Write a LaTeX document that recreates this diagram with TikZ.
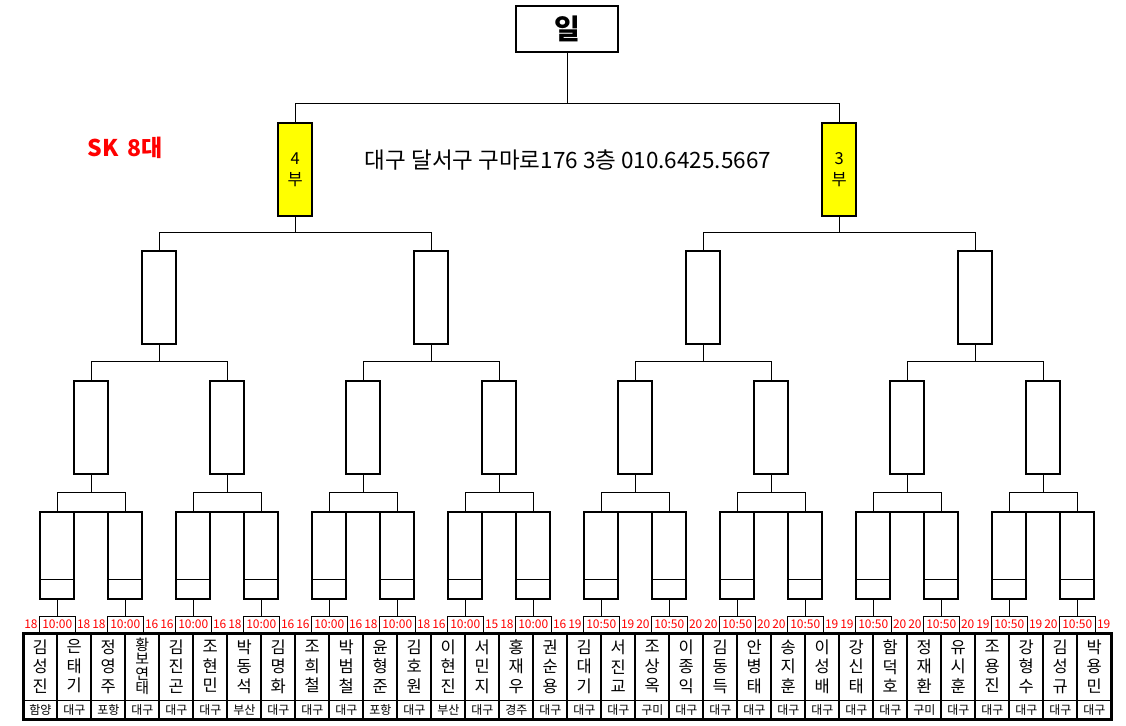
\documentclass[tikz,border=0pt]{standalone}
\usepackage{fontspec}
\setmainfont{Noto Sans CJK KR}
\usetikzlibrary{positioning}
\definecolor{myred}{RGB}{255,0,0}
\definecolor{myyellow}{RGB}{255,255,0}

\begin{document}
\begin{tikzpicture}[x=1pt,y=-1pt,
    slot/.style={draw,line width=2.2pt,minimum width=34pt,minimum height=93.3pt,inner sep=0pt,outer sep=0pt},
    timebox/.style={draw,line width=1pt,minimum width=36pt,minimum height=17pt,inner sep=0pt,outer sep=0pt,text=myred,font=\fontsize{12}{13}\selectfont},
    score/.style={inner sep=0pt,text=myred,font=\fontsize{12}{13}\selectfont},
    namecell/.style={minimum width=34pt,minimum height=67pt,inner sep=0pt,outer sep=0pt,align=center},
    citycell/.style={minimum width=34pt,minimum height=19.3pt,inner sep=0pt,outer sep=0pt,font=\fontsize{12}{13}\selectfont},
    link/.style={line width=1pt}]
    \useasboundingbox (0,0) rectangle (1126,725);
    \node[draw,line width=2.2pt,minimum width=102pt,minimum height=46pt,outer sep=0pt,font=\bfseries\fontsize{28}{30}\selectfont] (win) at (567.3,29) {일};
    \foreach \s/\lbl in {1/4,2/3}
        \node[slot,fill=myyellow,align=center,font=\fontsize{16.5}{21}\selectfont] (bu\s) at ({23.3+(16*\s-8)*34},169.3) {\lbl\\부};
    \foreach \n in {1,...,4}
        \node[slot] (rc\n) at ({23.3+(8*\n-4)*34},297.3) {};
    \foreach \m in {1,...,8}
        \node[slot] (rb\m) at ({23.3+(4*\m-2)*34},427.3) {};
    \foreach \l/\tm/\r [count=\k] in {18/10:00/18,18/10:00/16,16/10:00/16,18/10:00/16,16/10:00/16,18/10:00/18,16/10:00/15,18/10:00/16,
        19/10:50/19,20/10:50/20,20/10:50/20,20/10:50/19,19/10:50/20,20/10:50/20,19/10:50/19,20/10:50/19} {
        \node[slot,minimum height=86.7pt] (ra\k) at ({23.3+(2*\k-1)*34},555.3) {};
        \draw[link] ([yshift=19.4pt]ra\k.south west) -- ([yshift=19.4pt]ra\k.south east);
        \node[timebox] (tm\k) at ({23.3+(2*\k-1)*34},624.5) {\tm};
        \node[score,left=1.5pt of tm\k] (sl\k) {\l};
        \node[score,right=1.5pt of tm\k] (sr\k) {\r};
        \draw[link] (ra\k) -- (tm\k);
    }
    \foreach \m [evaluate=\m as \j using int(2*\m-1), evaluate=\m as \k using int(2*\m)] in {1,...,8} {
        \draw[line width=2.2pt] (ra\j.north east) -- (ra\k.north west);
        \draw[link] (ra\j.north) -- ++(0,-19.3) coordinate (jn) -| (ra\k.north);
        \draw[link] (rb\m) -- (rb\m.south |- jn);
    }
    \foreach \n [evaluate=\n as \j using int(2*\n-1), evaluate=\n as \k using int(2*\n)] in {1,...,4} {
        \draw[link] (rb\j.north) -- ++(0,-19.4) coordinate (jn) -| (rb\k.north);
        \draw[link] (rc\n) -- (rc\n.south |- jn);
    }
    \foreach \s [evaluate=\s as \j using int(2*\s-1), evaluate=\s as \k using int(2*\s)] in {1,2} {
        \draw[link] (rc\j.north) -- ++(0,-18.2) coordinate (jn) -| (rc\k.north);
        \draw[link] (bu\s) -- (bu\s.south |- jn);
    }
    \draw[link] (bu1.north) -- ++(0,-18.7) coordinate (jn) -| (bu2.north);
    \draw[link] (win) -- (win.south |- jn);
    \foreach \nm/\ct/\fs/\ls [count=\i] in {{김\\성\\진}/함양/16.5/19.5,{은\\태\\기}/대구/16.5/19.5,{정\\영\\주}/포항/16.5/19.5,{황\\보\\연\\태}/대구/15/14.5,
        {김\\진\\곤}/대구/16.5/19.5,{조\\현\\민}/대구/16.5/19.5,{박\\동\\석}/부산/16.5/19.5,{김\\명\\화}/대구/16.5/19.5,
        {조\\희\\철}/대구/16.5/19.5,{박\\범\\철}/대구/16.5/19.5,{윤\\형\\준}/포항/16.5/19.5,{김\\호\\원}/대구/16.5/19.5,
        {이\\현\\진}/부산/16.5/19.5,{서\\민\\지}/대구/16.5/19.5,{홍\\재\\우}/경주/16.5/19.5,{권\\순\\용}/대구/16.5/19.5,
        {김\\대\\기}/대구/16.5/19.5,{서\\진\\교}/대구/16.5/19.5,{조\\상\\옥}/구미/16.5/19.5,{이\\종\\익}/대구/16.5/19.5,
        {김\\동\\득}/대구/16.5/19.5,{안\\병\\태}/대구/16.5/19.5,{송\\지\\훈}/대구/16.5/19.5,{이\\성\\배}/대구/16.5/19.5,
        {강\\신\\태}/대구/16.5/19.5,{함\\덕\\호}/대구/16.5/19.5,{정\\재\\환}/구미/16.5/19.5,{유\\시\\훈}/대구/16.5/19.5,
        {조\\용\\진}/대구/16.5/19.5,{강\\형\\수}/대구/16.5/19.5,{김\\성\\규}/대구/16.5/19.5,{박\\용\\민}/대구/16.5/19.5} {
        \node[namecell,font=\fontsize{\fs}{\ls}\selectfont] (pl\i) at ({23.3+(\i-0.5)*34},666.5) {\nm};
        \node[citycell,below=0pt of pl\i] (ct\i) {\ct};
        \draw[line width=2pt] (pl\i.north west) rectangle (ct\i.south east);
        \draw[link] (pl\i.south west) -- (pl\i.south east);
    }
    \draw[line width=3pt] (pl1.north west) rectangle (ct32.south east);
    \node[text=myred,font=\bfseries\fontsize{23}{25}\selectfont] (title) at (125,148) {SK\hspace{0.4em}8대};
    \node[font=\fontsize{22.5}{24}\selectfont] (addr) at (568,160) {대구 달서구 구마로176 3층 010.6425.5667};
\end{tikzpicture}
\end{document}
